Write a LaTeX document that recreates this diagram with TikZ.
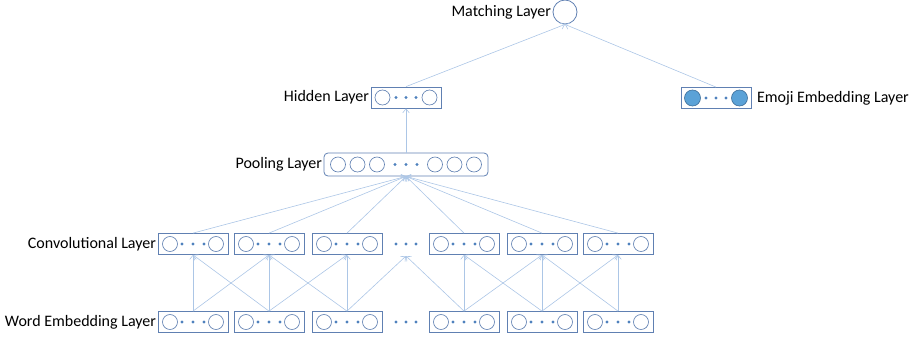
\documentclass[tikz,border=0pt]{standalone}
\usepackage{fontspec}
\setmainfont{Carlito}
\usetikzlibrary{arrows.meta,positioning}

\definecolor{boxblue}{RGB}{96,128,178}
\definecolor{linkblue}{RGB}{172,198,230}
\definecolor{dotblue}{RGB}{79,129,189}
\definecolor{emojiblue}{RGB}{91,162,215}
\definecolor{emojiline}{RGB}{65,113,156}

\begin{document}
\begin{tikzpicture}[x=0.75pt,y=0.75pt,yscale=-1,xscale=1,
  vecbox/.style={draw=boxblue,line width=0.6pt,minimum width=52.5pt,minimum height=15.75pt,inner sep=0pt},
  unit/.style={draw=boxblue,line width=0.5pt,fill=white},
  emojiunit/.style={draw=emojiline,line width=0.5pt,fill=emojiblue},
  dotunit/.style={fill=dotblue},
  link/.style={draw=linkblue,line width=0.45pt,-{Straight Barb[length=3pt,width=5pt]}},
  lbl/.style={font=\fontsize{12}{14}\selectfont,inner sep=1pt}]
\useasboundingbox (0,0) rectangle (922,340);

%Convolutional and word embedding boxes
\foreach \cx [count=\i] in {193,269,347,464,542,618} {
  \node[vecbox] (conv\i) at (\cx,244) {};
  \node[vecbox] (word\i) at (\cx,322) {};
  \foreach \yy in {244,322} {
    \draw[unit] (\cx-23,\yy) circle (7.5);
    \draw[unit] (\cx+23,\yy) circle (7.5);
    \fill[dotunit] (\cx-11,\yy) circle (1.6);
    \fill[dotunit] (\cx,\yy) circle (1.6);
    \fill[dotunit] (\cx+11,\yy) circle (1.6);
  }
}
%Ellipsis between boxes
\foreach \yy in {244,322} {
  \fill[dotunit] (396,\yy) circle (1.6);
  \fill[dotunit] (406,\yy) circle (1.6);
  \fill[dotunit] (416,\yy) circle (1.6);
}
\coordinate (convgap) at (406,256);

%Pooling layer
\node[vecbox,minimum width=123pt,minimum height=17.25pt,rounded corners=3pt] (pool) at (406,164.5) {};
\foreach \dx in {-68,-48.5,-29,29,48.5,68} {
  \draw[unit] (406+\dx,164.5) circle (7.5);
}
\foreach \dx in {-11,0,11} {
  \fill[dotunit] (406+\dx,164.5) circle (1.6);
}

%Hidden layer
\node[vecbox] (hidden) at (406,97.5) {};
\draw[unit] (382.5,97.5) circle (7.5);
\draw[unit] (429.5,97.5) circle (7.5);
\foreach \dx in {-10,0,10} {
  \fill[dotunit] (406+\dx,97.5) circle (1.6);
}

%Emoji embedding layer
\node[vecbox] (emoji) at (716,98) {};
\draw[emojiunit] (692.5,98) circle (8);
\draw[emojiunit] (739.5,98) circle (8);
\foreach \dx in {-10,0,10} {
  \fill[dotunit] (716+\dx,98) circle (1.6);
}

%Matching layer
\node[draw=boxblue,line width=0.6pt,circle,minimum size=18pt,inner sep=0pt] (match) at (565,12) {};

% Text Node
\node[lbl,left=0pt of match] (matchlbl) {Matching Layer};
% Text Node
\node[lbl,left=0pt of hidden] (hiddenlbl) {Hidden Layer};
% Text Node
\node[lbl,right=3pt of emoji] (emojilbl) {Emoji Embedding Layer};
% Text Node
\node[lbl,left=0pt of pool] (poollbl) {Pooling Layer};
% Text Node
\node[lbl,left=0pt of conv1] (convlbl) {Convolutional Layer};
% Text Node
\node[lbl,left=0pt of word1] (wordlbl) {Word Embedding Layer};

%Word embedding to convolution
\draw[link] (word1.north) -- (conv1.south);
\draw[link] (word1.north) -- (conv2.south);
\draw[link] (word2.north) -- (conv1.south);
\draw[link] (word2.north) -- (conv2.south);
\draw[link] (word2.north) -- (conv3.south);
\draw[link] (word3.north) -- (conv2.south);
\draw[link] (word3.north) -- (conv3.south);
\draw[link] (word3.north) -- (convgap);
\draw[link] (word4.north) -- (convgap);
\draw[link] (word4.north) -- (conv4.south);
\draw[link] (word4.north) -- (conv5.south);
\draw[link] (word5.north) -- (conv4.south);
\draw[link] (word5.north) -- (conv5.south);
\draw[link] (word5.north) -- (conv6.south);
\draw[link] (word6.north) -- (conv5.south);
\draw[link] (word6.north) -- (conv6.south);

%Convolution to pooling
\foreach \i in {1,...,6} {
  \draw[link] (conv\i.north) -- (pool.south);
}

%Upper layers
\draw[link] (pool.north) -- (hidden.south);
\draw[link] (hidden.north) -- (match.south);
\draw[link] (emoji.north) -- (match.south);

\end{tikzpicture}
\end{document}
